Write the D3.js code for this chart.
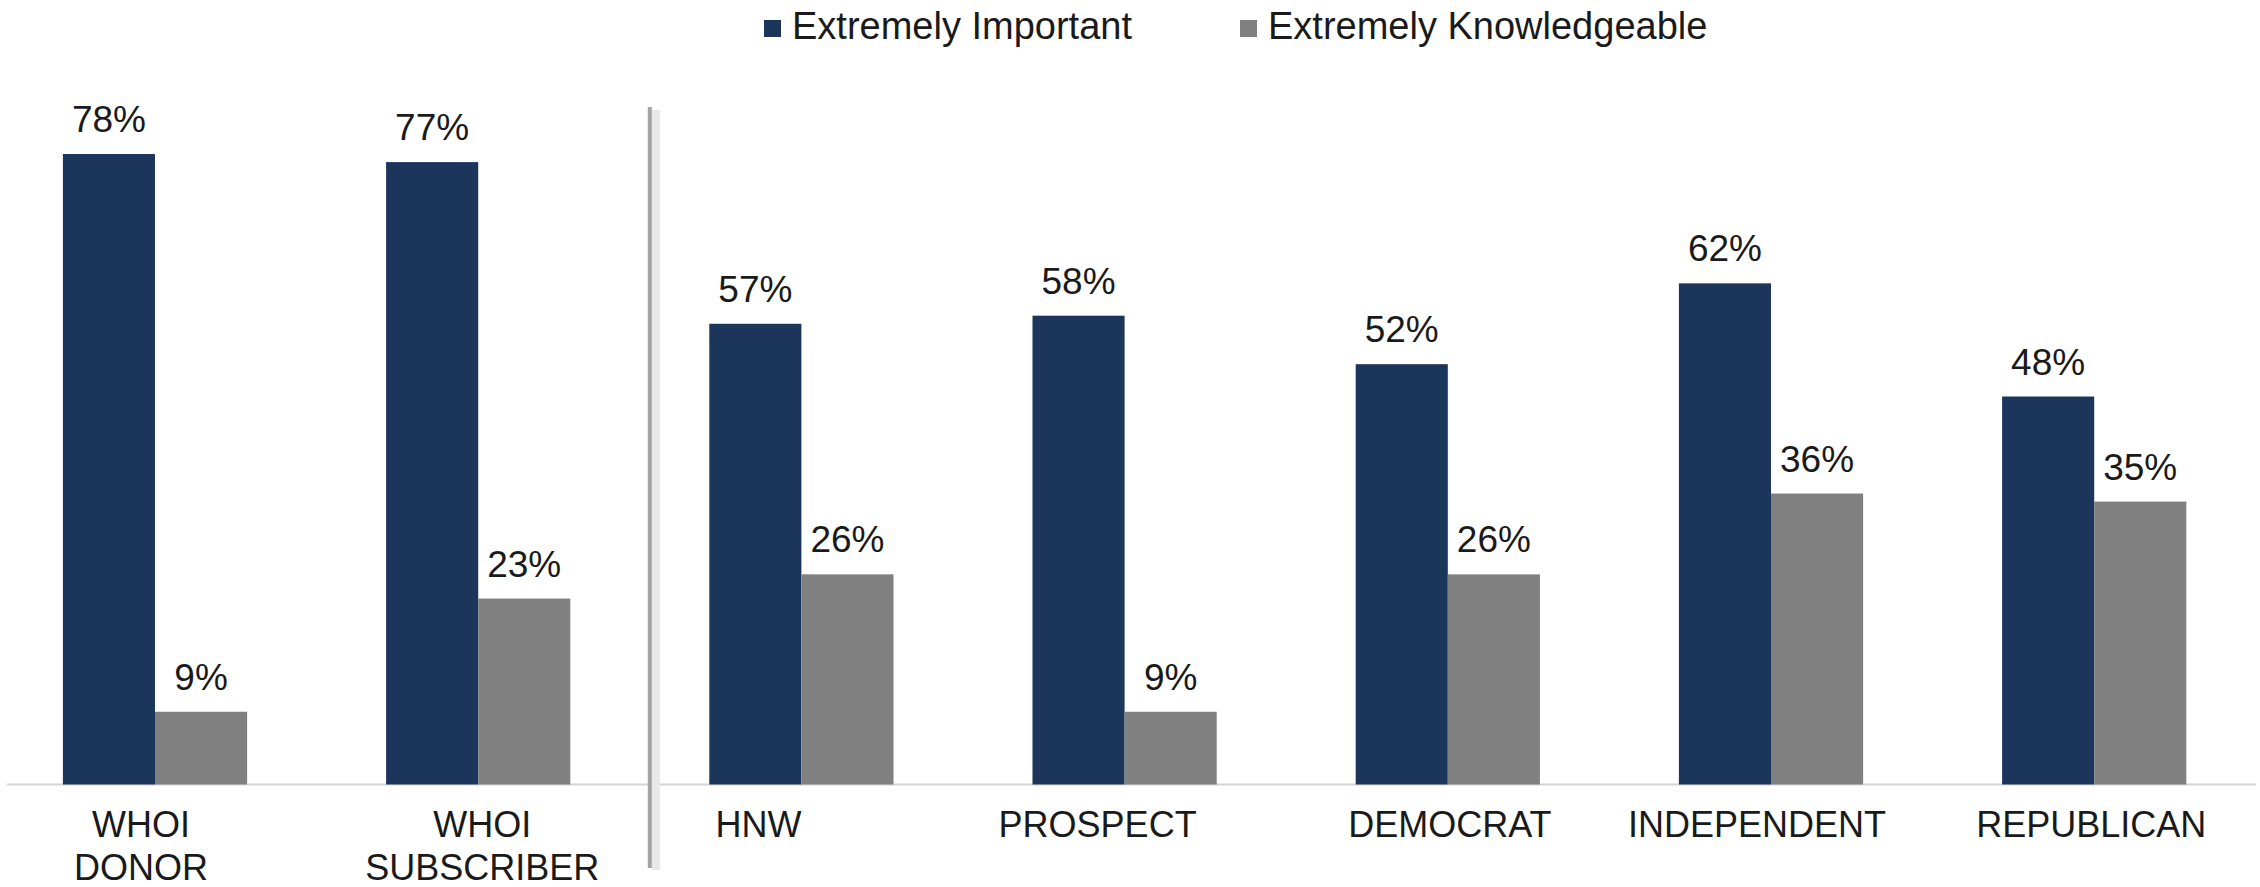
<!DOCTYPE html>
<html>
<head>
<meta charset="utf-8">
<script src="https://cdn.jsdelivr.net/npm/d3@7/dist/d3.min.js"></script>
<style>
  html, body { margin: 0; padding: 0; background: #ffffff; }
  svg { display: block; }
  text { font-family: "Liberation Sans", Arial, "DejaVu Sans", sans-serif; fill: #1a1a1a; }
</style>
</head>
<body>
<svg id="chart" width="2260" height="887"></svg>
<script>
// ---- data ----
const categories = [["WHOI", "DONOR"], ["WHOI", "SUBSCRIBER"], ["HNW"], ["PROSPECT"], ["DEMOCRAT"], ["INDEPENDENT"], ["REPUBLICAN"]];
const seriesNames = ["Extremely Important", "Extremely Knowledgeable"];
const importantValues = [78, 77, 57, 58, 52, 62, 48];
const knowledgeableValues = [9, 23, 26, 9, 26, 36, 35];

// ---- layout / style ----
const colors = ["#1b365a", "#808080"];
const baseY = 784.5;
const labelNudge = [-14, 4, -43, -27, 2, -14, -3];

const svg = d3.select("#chart");
const keys = categories.map(c => c.join(" "));
const rows = keys.map((k, i) => ({ key: k, lines: categories[i], vals: [importantValues[i], knowledgeableValues[i]] }));

const x0 = d3.scaleBand().domain(keys).range([-6.6, 2255.8]).paddingInner(0.43).paddingOuter(0.215);
const x1 = d3.scaleBand().domain([0, 1]).range([0, x0.bandwidth()]);
const y = d3.scaleLinear().domain([0, 100]).range([baseY, baseY - 808.3]);

// baseline
svg.append("line").attr("x1", 7).attr("x2", 2256).attr("y1", baseY).attr("y2", baseY)
  .attr("stroke", "#d4d4d4").attr("stroke-width", 2);

// bars
const g = svg.append("g").selectAll("g").data(rows).join("g")
  .attr("transform", d => `translate(${x0(d.key)},0)`);
g.selectAll("rect").data(d => d.vals.map((v, j) => ({ v, j }))).join("rect")
  .attr("x", d => x1(d.j)).attr("width", x1.bandwidth())
  .attr("y", d => y(d.v)).attr("height", d => y(0) - y(d.v))
  .attr("fill", d => colors[d.j]);
g.selectAll("text.val").data(d => d.vals.map((v, j) => ({ v, j }))).join("text")
  .attr("class", "val")
  .attr("x", d => x1(d.j) + x1.bandwidth() / 2)
  .attr("y", d => y(d.v) - 22)
  .attr("text-anchor", "middle").attr("font-size", 37)
  .text(d => d.v + "%");

// category labels
svg.append("g").selectAll("text").data(rows).join("text")
  .attr("text-anchor", "middle").attr("font-size", 36)
  .attr("transform", (d, i) => `translate(${x0(d.key) + x0.bandwidth() / 2 + labelNudge[i]},837)`)
  .each(function(d) {
    d3.select(this).selectAll("tspan").data(d.lines).join("tspan")
      .attr("x", 0).attr("dy", (l, k) => k === 0 ? 0 : 43).text(l => l);
  });

// separator between WHOI groups and others
const sepX = x0(keys[2]) - (x0.step() - x0.bandwidth()) / 2 + 10;
svg.append("line").attr("x1", sepX + 6).attr("x2", sepX + 6).attr("y1", 110).attr("y2", 870)
  .attr("stroke", "#e8e8e8").attr("stroke-width", 8);
svg.append("line").attr("x1", sepX).attr("x2", sepX).attr("y1", 107).attr("y2", 868)
  .attr("stroke", "#a3a3a3").attr("stroke-width", 4);

// legend
const legendX = [764, 1240];
const lg = svg.append("g").selectAll("g").data(seriesNames).join("g")
  .attr("transform", (d, i) => `translate(${legendX[i]},0)`);
lg.append("rect").attr("x", 0).attr("y", 20).attr("width", 17).attr("height", 17)
  .attr("fill", (d, i) => colors[i]);
lg.append("text").attr("x", 28).attr("y", 39).attr("font-size", 38).text(d => d);
</script>
</body>
</html>
